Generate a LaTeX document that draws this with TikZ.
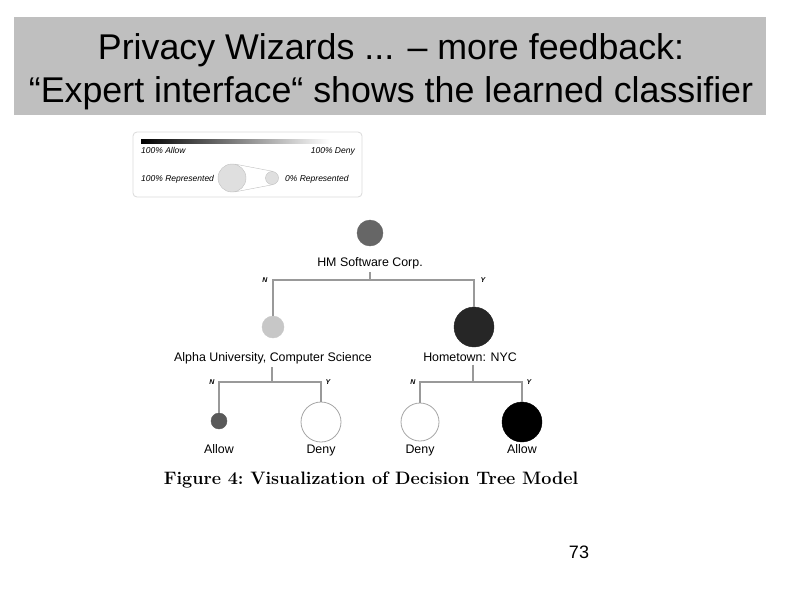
\documentclass[tikz,border=0pt]{standalone}
\usepackage{fontspec}
\newfontfamily\slidefont{Liberation Sans}
\usetikzlibrary{positioning}
\tikzset{
    treenode/.style={circle,inner sep=0pt,draw=#1,fill=#1},
    emptynode/.style={circle,inner sep=0pt,draw=gray!70,fill=white,line width=0.8pt},
    treelabel/.style={font=\slidefont\fontsize{12.4}{14}\selectfont,anchor=base},
    branch/.style={font=\slidefont\bfseries\itshape\fontsize{7}{8}\selectfont},
    legendtext/.style={font=\slidefont\itshape\fontsize{8.5}{10}\selectfont,inner sep=0pt},
    edge/.style={draw=gray!80,line width=1.1pt}
}
\begin{document}
\begin{tikzpicture}[x=1pt,y=-1pt]
    \useasboundingbox (0,0) rectangle (794,595);
    % title bar
    \fill[black!25] (14,17) rectangle (766,115);
    \node[font=\slidefont\fontsize{35.8}{43}\selectfont,align=center] (title) at (391,72)
        {Privacy Wizards ... – more feedback:\\“Expert interface“ shows the learned classifier};
    % legend
    \draw[gray!30,rounded corners=4pt,line width=0.8pt] (133,132) rectangle (362,197);
    \shade[left color=black,right color=white] (141,139) rectangle (330,143);
    \node[legendtext,anchor=base west] (allowkey) at (141,153) {100\% Allow};
    \node[legendtext,anchor=base east] (denykey) at (355,153) {100\% Deny};
    \node[legendtext,anchor=base west] (fullkey) at (141,181) {100\% Represented};
    \node[legendtext,anchor=base west] (nonekey) at (285,181) {0\% Represented};
    \node[circle,inner sep=0pt,minimum size=28pt,draw=gray!50,fill=gray!25] (bigkey) at (232,178) {};
    \node[circle,inner sep=0pt,minimum size=13pt,draw=gray!50,fill=gray!25] (smallkey) at (272,178) {};
    \draw[gray!50] (bigkey.79) -- (smallkey.79);
    \draw[gray!50] (bigkey.-79) -- (smallkey.-79);
    % tree
    \node[treenode=black!60,minimum size=26pt] (hm) at (370,233) {};
    \node[treelabel] (hmtext) at (370,266) {HM Software Corp.};
    \coordinate (hmfork) at (370,280);
    \node[treenode=black!22,minimum size=22pt] (alpha) at (273,327) {};
    \node[treenode=black!85,minimum size=40pt] (nyc) at (474,327) {};
    \node[treelabel] (alphatext) at (273,361) {Alpha University, Computer Science};
    \node[treelabel] (nyctext) at (470,361) {Hometown: NYC};
    \draw[edge] (hmtext.south -| hmfork) -- (hmfork);
    \draw[edge] (alpha.north) |- (hmfork) -| (nyc.north);
    \node[branch] at (265,280) {N};
    \node[branch] at (483,280) {Y};
    % left subtree
    \coordinate (alphafork) at (272,382);
    \node[treenode=black!65,minimum size=16pt] (allow1) at (219,421) {};
    \node[emptynode,minimum size=40pt] (deny1) at (321,422) {};
    \draw[edge] (alphatext.south -| alphafork) -- (alphafork);
    \draw[edge] (allow1.north) |- (alphafork) -| (deny1.north);
    \node[branch] at (212,382) {N};
    \node[branch] at (328,382) {Y};
    \node[treelabel] (allow1text) at (219,453) {Allow};
    \node[treelabel] (deny1text) at (321,453) {Deny};
    % right subtree
    \coordinate (nycfork) at (473,382);
    \node[emptynode,minimum size=38pt] (deny2) at (420,422) {};
    \node[treenode=black,minimum size=40pt] (allow2) at (522,422) {};
    \draw[edge] (nyctext.south -| nycfork) -- (nycfork);
    \draw[edge] (deny2.north) |- (nycfork) -| (allow2.north);
    \node[branch] at (413,382) {N};
    \node[branch] at (529,382) {Y};
    \node[treelabel] (deny2text) at (420,453) {Deny};
    \node[treelabel] (allow2text) at (522,453) {Allow};
    % caption and page number
    \node[font=\bfseries\fontsize{18}{20}\selectfont] (caption) at (371,480)
        {Figure 4:\ Visualization of Decision Tree Model};
    \node[font=\slidefont\fontsize{18}{20}\selectfont] (pagenum) at (579,552) {73};
\end{tikzpicture}
\end{document}
